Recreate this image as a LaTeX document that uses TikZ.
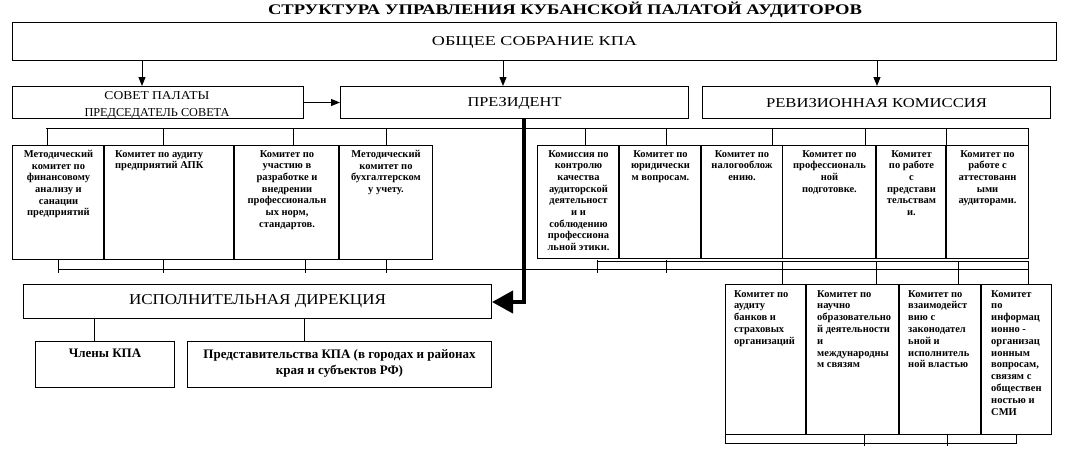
\documentclass[tikz,border=0pt]{standalone}
\usepackage{fontspec}
\setmainfont{Liberation Serif}
\usetikzlibrary{arrows.meta}
\begin{document}
\begin{tikzpicture}[x=1pt,y=-1pt,
  ln/.style={line width=1pt},
  box/.style={draw, line width=1pt, inner sep=0pt, anchor=north west},
  arr/.style={line width=1pt, -{Triangle[length=9pt,width=7pt]}},
  thickarr/.style={line width=4pt, line join=miter, -{Triangle[length=21pt,width=22pt]}},
  sepl/.style={line width=2pt},
  ctext/.style={font=\fontsize{10.5}{11.7}\selectfont\bfseries, align=center, inner sep=0pt, anchor=north},
  ltext/.style={font=\fontsize{10.5}{11.8}\selectfont\bfseries, align=left, inner sep=0pt, anchor=north west},
  btext/.style={font=\fontsize{13}{16}\selectfont\bfseries, align=center, inner sep=0pt, anchor=north}
]
\useasboundingbox (0,0) rectangle (1071,448);

% title
\node[inner sep=0pt] (title) at (565,10) {\resizebox{594pt}{12.5pt}{\bfseries СТРУКТУРА УПРАВЛЕНИЯ КУБАНСКОЙ ПАЛАТОЙ АУДИТОРОВ}};

% top box
\node[box, minimum width=1044pt, minimum height=38pt] (top) at (12,22) {};
\node[inner sep=0pt] (toptxt) at ([yshift=-1pt]top.center) {\resizebox{205pt}{9pt}{ОБЩЕЕ СОБРАНИЕ КПА}};

% second row
\node[box, minimum width=291pt, minimum height=32pt] (sov) at (12,86) {};
\node[box, minimum width=348pt, minimum height=32pt] (pres) at (340,86) {};
\node[box, minimum width=348pt, minimum height=32pt] (rev) at (702,86) {};
\node[inner sep=0pt] (sovtxt) at (157,96) {\resizebox{105pt}{8pt}{СОВЕТ ПАЛАТЫ}};
\begin{scope}
  \clip (sov.north west) rectangle (sov.south east);
  \node[inner sep=0pt] (sovtxt2) at (157,113.5) {\resizebox{145pt}{8pt}{ПРЕДСЕДАТЕЛЬ СОВЕТА}};
\end{scope}
\node[inner sep=0pt] (prestxt) at ([yshift=-1pt]pres.center) {\resizebox{94pt}{9pt}{ПРЕЗИДЕНТ}};
\node[inner sep=0pt] (revtxt) at ([yshift=-1pt]rev.center) {\resizebox{221pt}{9pt}{РЕВИЗИОННАЯ КОМИССИЯ}};

% arrows from top
\coordinate (a1) at (142,86);
\coordinate (a2) at (503,86);
\coordinate (a3) at (877,86);
\draw[arr] (top.south -| a1) -- (a1);
\draw[arr] (top.south -| a2) -- (a2);
\draw[arr] (top.south -| a3) -- (a3);
\draw[arr] (sov) -- (pres);

% upper bus
\coordinate (busw) at (46,128);
\coordinate (buse) at (1028,128);
\draw[ln] (busw) -- (buse);
\foreach \x in {47,163,293,386,585,666,772,865,946,1028}
  \draw[ln] (\x,128) -- (\x,145);

% left committee row
\node[box, minimum width=92pt, minimum height=114pt] (l1) at (12,145) {};
\node[box, minimum width=130pt, minimum height=114pt] (l2) at (104,145) {};
\node[box, minimum width=105pt, minimum height=114pt] (l3) at (234,145) {};
\node[box, minimum width=93pt, minimum height=114pt] (l4) at (339,145) {};
\draw[sepl] (l2.north west) -- (l2.south west);
\draw[sepl] (l3.north west) -- (l3.south west);
\draw[sepl] (l4.north west) -- (l4.south west);

\node[ctext] (l1t) at ([yshift=-5pt]l1.north) {Методический\\комитет по\\финансовому\\анализу и\\санации\\предприятий};
\node[ltext, font=\fontsize{10.5}{11.7}\selectfont\bfseries] (l2t) at ([xshift=11pt,yshift=-5pt]l2.north west) {Комитет по аудиту\\предприятий АПК};
\node[ctext] (l3t) at ([yshift=-5pt]l3.north) {Комитет по\\участию в\\разработке и\\внедрении\\профессиональн\\ых норм,\\стандартов.};
\node[ctext] (l4t) at ([yshift=-5pt]l4.north) {Методический\\комитет по\\бухгалтерском\\у учету.};

% right committee row
\node[box, minimum width=82pt, minimum height=113pt] (r1) at (537,145) {};
\node[box, minimum width=82pt, minimum height=113pt] (r2) at (619,145) {};
\node[box, minimum width=81pt, minimum height=113pt] (r3) at (701,145) {};
\node[box, minimum width=94pt, minimum height=113pt] (r4) at (782,145) {};
\node[box, minimum width=70pt, minimum height=113pt] (r5) at (876,145) {};
\node[box, minimum width=82pt, minimum height=113pt] (r6) at (946,145) {};
\draw[sepl] (r2.north west) -- (r2.south west);
\draw[sepl] (r3.north west) -- (r3.south west);
\draw[sepl] (r5.north west) -- (r5.south west);
\draw[sepl] (r6.north west) -- (r6.south west);

\node[ctext] (r1t) at ([yshift=-5pt]r1.north) {Комиссия по\\контролю\\качества\\аудиторской\\деятельност\\и и\\соблюдению\\профессиона\\льной этики.};
\node[ctext] (r2t) at ([yshift=-5pt]r2.north) {Комитет по\\юридически\\м вопросам.};
\node[ctext] (r3t) at ([yshift=-5pt]r3.north) {Комитет по\\налогооблож\\ению.};
\node[ctext] (r4t) at ([yshift=-5pt]r4.north) {Комитет по\\профессиональ\\ной\\подготовке.};
\node[ctext] (r5t) at ([yshift=-5pt]r5.north) {Комитет\\по работе\\с\\представи\\тельствам\\и.};
\node[ctext] (r6t) at ([yshift=-5pt]r6.north) {Комитет по\\работе с\\аттестованн\\ыми\\аудиторами.};

% lower bus lines
\draw[ln] (58,269) -- (1028,269);
\draw[ln] (597,261) -- (1028,261);
\foreach \x in {58,163,305,386,597,666}
  \draw[ln] (\x,260) -- (\x,273);
\foreach \x in {782,876,958,1028}
  \draw[ln] (\x,261) -- (\x,284);

% lower right group
\node[box, minimum width=81pt, minimum height=150pt] (b1) at (725,284) {};
\node[box, minimum width=93pt, minimum height=150pt] (b2) at (806,284) {};
\node[box, minimum width=82pt, minimum height=150pt] (b3) at (899,284) {};
\node[box, minimum width=70pt, minimum height=150pt] (b4) at (981,284) {};
\draw[sepl] (b2.north west) -- (b2.south west);
\draw[sepl] (b3.north west) -- (b3.south west);
\draw[sepl] (b4.north west) -- (b4.south west);

\node[ltext] (b1t) at ([xshift=9pt,yshift=-6pt]b1.north west) {Комитет по\\аудиту\\банков и\\страховых\\организаций};
\node[ltext] (b2t) at ([xshift=11pt,yshift=-6pt]b2.north west) {Комитет по\\научно\\образовательно\\й деятельности\\и\\международны\\м связям};
\node[ltext] (b3t) at ([xshift=9pt,yshift=-6pt]b3.north west) {Комитет по\\взаимодейст\\вию с\\законодател\\ьной и\\исполнитель\\ной властью};
\node[ltext] (b4t) at ([xshift=10pt,yshift=-6pt]b4.north west) {Комитет\\по\\информац\\ионно -\\организац\\ионным\\вопросам,\\связям с\\обществен\\ностью и\\СМИ};

% bottom lines under lower right group
\draw[ln] (725,434) -- (725,443) -- (1016,443) -- (1016,434);
\draw[ln] (864,434) -- (864,446);
\draw[ln] (947,434) -- (947,446);

% executive directorate
\node[box, minimum width=468pt, minimum height=34pt] (exec) at (23,284) {};
\node[inner sep=0pt] (exectxt) at (exec.center) {\resizebox{257pt}{10pt}{ИСПОЛНИТЕЛЬНАЯ ДИРЕКЦИЯ}};

\coordinate (bend) at (524,302);
\draw[thickarr] (pres.south -| bend) -- (bend) -- (exec.east |- bend);

\node[box, minimum width=139pt, minimum height=46pt] (chl) at (35,341) {};
\node[box, minimum width=304pt, minimum height=46pt] (pred) at (187,341) {};
\node[btext] (chlt) at ([yshift=-8pt]chl.north) {Члены КПА};
\node[btext] (predt) at ([yshift=-8pt]pred.north) {Представительства КПА (в городах и районах\\края и субъектов РФ)};
\draw[ln] (exec.south -| 94,0) -- (chl.north -| 94,0);
\draw[ln] (exec.south -| 304,0) -- (pred.north -| 304,0);
\end{tikzpicture}
\end{document}
